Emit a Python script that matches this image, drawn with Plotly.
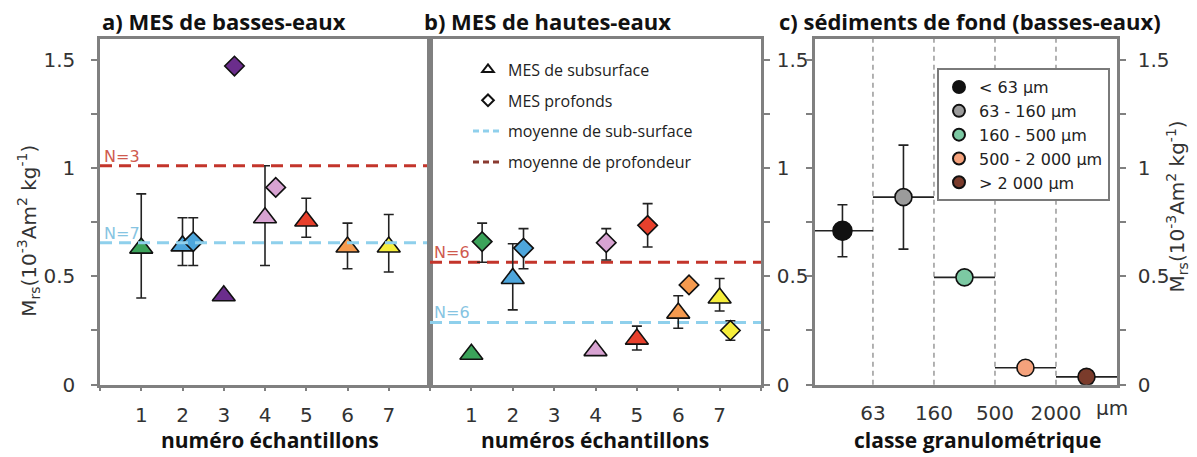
import plotly.graph_objects as go

W, H = 1197, 457

# ---- data -------------------------------------------------------------
samples = [1, 2, 3, 4, 5, 6, 7]
sample_colors = ["#3ba35a", "#4da6dc", "#6b2d8c", "#d8a3d2", "#e8402c", "#f59a4e", "#f6ee3c"]

# a) low-water suspended matter
a_sub_x = [1, 2, 3, 4, 5, 6, 7]
a_sub_y = [0.63, 0.64, 0.41, 0.77, 0.755, 0.635, 0.635]
a_sub_up = [0.25, 0.13, 0.0, 0.24, 0.105, 0.11, 0.15]
a_sub_dn = [0.23, 0.09, 0.0, 0.22, 0.075, 0.10, 0.115]
a_deep_x = [2, 3, 4]
a_deep_y = [0.66, 1.47, 0.91]
a_deep_up = [0.11, 0.0, 0.0]
a_deep_dn = [0.11, 0.0, 0.0]
a_mean_sub, a_n_sub = 0.655, 7
a_mean_deep, a_n_deep = 1.01, 3

# b) high-water suspended matter
b_sub_x = [1, 2, 4, 5, 6, 7]
b_sub_y = [0.14, 0.49, 0.157, 0.21, 0.33, 0.40]
b_sub_up = [0.0, 0.16, 0.0, 0.06, 0.08, 0.09]
b_sub_dn = [0.0, 0.145, 0.0, 0.05, 0.07, 0.06]
b_deep_x = [1, 2, 4, 5, 6, 7]
b_deep_y = [0.66, 0.63, 0.655, 0.735, 0.46, 0.25]
b_deep_up = [0.085, 0.09, 0.065, 0.10, 0.0, 0.045]
b_deep_dn = [0.095, 0.095, 0.08, 0.10, 0.0, 0.045]
b_mean_sub, b_n_sub = 0.287, 6
b_mean_deep, b_n_deep = 0.565, 6

# c) bed sediments by grain-size class
classes = ["< 63 µm", "63 - 160 µm", "160 - 500 µm", "500 - 2 000 µm", "> 2 000 µm"]
class_bounds = ["63", "160", "500", "2000"]
class_colors = ["#111111", "#9b9b9b", "#7cc9a3", "#f5a27c", "#7a3b2b"]
c_y = [0.71, 0.865, 0.495, 0.078, 0.036]
c_err = [0.12, 0.24, 0.0, 0.0, 0.0]

y_labels = [0, 0.5, 1.0, 1.5]
y_minor = [0.25, 0.75, 1.25]

DEEP_OFFSET = 0.26
X_RANGE = [0, 8]
Y_RANGE = [0, 1.595]

# ---- style ------------------------------------------------------------
AX = "#808080"
TICK_FONT = dict(family="DejaVu Sans", size=20, color="#333333")
BOLD = "Open Sans"
RED_LINE = "#c3352b"
BLUE_LINE = "#8fd0ec"
RED_TXT = "#cf5a4e"
BLUE_TXT = "#86c4e2"
DASH = "12px,7px"

def px_x(p):
    return p / W

def px_y(p):
    return 1 - p / H

fig = go.Figure()

def err(up, dn):
    return dict(type="data", symmetric=False, array=up, arrayminus=dn,
                color="#222222", thickness=1.6, width=5)

def colors_for(xs):
    return [sample_colors[samples.index(s)] for s in xs]

MLINE = dict(color="#111111", width=1.6)

# panel a
fig.add_trace(go.Scatter(x=a_sub_x, y=a_sub_y, mode="markers", xaxis="x", yaxis="y",
                         marker=dict(symbol="triangle-up", size=20, color=colors_for(a_sub_x), line=MLINE),
                         error_y=err(a_sub_up, a_sub_dn), showlegend=False))
fig.add_trace(go.Scatter(x=[s + DEEP_OFFSET for s in a_deep_x], y=a_deep_y, mode="markers", xaxis="x", yaxis="y",
                         marker=dict(symbol="diamond", size=15, color=colors_for(a_deep_x), line=MLINE),
                         error_y=err(a_deep_up, a_deep_dn), showlegend=False))
fig.add_trace(go.Scatter(x=X_RANGE, y=[a_mean_deep] * 2, mode="lines", xaxis="x", yaxis="y",
                         line=dict(color=RED_LINE, width=3, dash=DASH), showlegend=False))
fig.add_trace(go.Scatter(x=X_RANGE, y=[a_mean_sub] * 2, mode="lines", xaxis="x", yaxis="y",
                         line=dict(color=BLUE_LINE, width=3, dash=DASH), showlegend=False))

# panel b
fig.add_trace(go.Scatter(x=X_RANGE, y=[b_mean_deep] * 2, mode="lines", xaxis="x2", yaxis="y2",
                         line=dict(color=RED_LINE, width=3, dash=DASH), showlegend=False))
fig.add_trace(go.Scatter(x=X_RANGE, y=[b_mean_sub] * 2, mode="lines", xaxis="x2", yaxis="y2",
                         line=dict(color=BLUE_LINE, width=3, dash=DASH), showlegend=False))
fig.add_trace(go.Scatter(x=b_sub_x, y=b_sub_y, mode="markers", xaxis="x2", yaxis="y2",
                         marker=dict(symbol="triangle-up", size=20, color=colors_for(b_sub_x), line=MLINE),
                         error_y=err(b_sub_up, b_sub_dn), showlegend=False))
fig.add_trace(go.Scatter(x=[s + DEEP_OFFSET for s in b_deep_x], y=b_deep_y, mode="markers", xaxis="x2", yaxis="y2",
                         marker=dict(symbol="diamond", size=15, color=colors_for(b_deep_x), line=MLINE),
                         error_y=err(b_deep_up, b_deep_dn), showlegend=False))

# legend entries for panels a/b
fig.add_trace(go.Scatter(x=[None], y=[None], mode="markers", xaxis="x2", yaxis="y2", name="MES de subsurface",
                         marker=dict(symbol="triangle-up-open", size=10, color="#111111", line=dict(width=2)),
                         legend="legend", legendgroup="g1"))
fig.add_trace(go.Scatter(x=[None], y=[None], mode="markers", xaxis="x2", yaxis="y2", name="MES profonds",
                         marker=dict(symbol="diamond-open", size=9, color="#111111", line=dict(width=2)),
                         legend="legend", legendgroup="g2"))
fig.add_trace(go.Scatter(x=[None], y=[None], mode="lines", xaxis="x2", yaxis="y2", name="moyenne de sub-surface",
                         line=dict(color=BLUE_LINE, width=3, dash="6px,4px"), legend="legend", legendgroup="g3"))
fig.add_trace(go.Scatter(x=[None], y=[None], mode="lines", xaxis="x2", yaxis="y2", name="moyenne de profondeur",
                         line=dict(color="#8a3a30", width=3, dash="6px,4px"), legend="legend", legendgroup="g4"))

# panel c
for i, (name, col) in enumerate(zip(classes, class_colors)):
    fig.add_trace(go.Scatter(
        x=[i + 0.5], y=[c_y[i]], mode="markers", xaxis="x3", yaxis="y3", name=name,
        marker=dict(symbol="circle", size=19 if i == 0 else 17, color=col, line=dict(color="#111111", width=1.6)),
        error_x=dict(type="constant", value=0.5, color="#222222", thickness=1.6, width=0),
        error_y=dict(type="data", array=[c_err[i]], color="#222222", thickness=1.6, width=5,
                     visible=c_err[i] > 0),
        legend="legend2", legendgroup=f"c{i}"))

# class boundaries in panel c
for k in range(1, len(classes)):
    fig.add_shape(type="line", xref="x3", yref="y3 domain", x0=k, x1=k, y0=0, y1=1,
                  line=dict(color="#8a8a8a", width=1.3, dash="5px,4px"), layer="below")

ydom = [px_y(395), px_y(40)]
common_x = dict(showline=True, linecolor=AX, linewidth=2.5, showgrid=False, zeroline=False,
                ticks="outside", tickcolor=AX, ticklen=4, tickwidth=1.5, tickfont=TICK_FONT)
common_y = dict(showline=True, linecolor=AX, linewidth=2.5, showgrid=False, zeroline=False,
                range=Y_RANGE, domain=ydom, tickvals=y_labels, ticktext=[f"{v:g}" for v in y_labels],
                ticks="outside", tickcolor=AX, ticklen=6, tickwidth=1.5, tickfont=TICK_FONT,
                minor=dict(tickvals=y_minor, ticks="outside", ticklen=6, tickcolor=AX, tickwidth=1.5))

x_minor = dict(tickvals=[X_RANGE[0], X_RANGE[1]], ticks="outside", ticklen=4, tickcolor=AX, tickwidth=1.5)

fig.update_layout(
    width=W, height=H, margin=dict(l=0, r=0, t=0, b=0),
    paper_bgcolor="white", plot_bgcolor="white",
    xaxis=dict(common_x, domain=[px_x(100), px_x(430)], range=X_RANGE, anchor="y",
               tickvals=samples, minor=x_minor, mirror=True, ticklabelstandoff=7),
    yaxis=dict(common_y, anchor="x", mirror=True, ticklabelstandoff=12),
    xaxis2=dict(common_x, domain=[px_x(430), px_x(761)], range=X_RANGE, anchor="y2",
                tickvals=samples, minor=x_minor, mirror=True, ticklabelstandoff=7),
    yaxis2=dict(common_y, anchor="x2", side="right", mirror=True, ticklabelstandoff=3),
    xaxis3=dict(common_x, domain=[px_x(815), px_x(1117)], range=[0.05, 5.0], anchor="y3",
                tickvals=list(range(1, len(classes))), ticktext=class_bounds, ticks="",
                mirror=True, ticklabelstandoff=9),
    yaxis3=dict(common_y, anchor="x3", side="right", mirror="ticks", ticklabelstandoff=8),
    legend=dict(x=px_x(468), y=px_y(54), xanchor="left", yanchor="top",
                bgcolor="rgba(255,255,255,0)", borderwidth=0, tracegroupgap=7,
                font=dict(family="Open Sans", size=16, color="#222222"), itemsizing="trace"),
    legend2=dict(x=px_x(937), y=px_y(70), xanchor="left", yanchor="top",
                 bgcolor="white", bordercolor="#7a7a7a", borderwidth=2, tracegroupgap=0,
                 font=dict(family="DejaVu Sans", size=16, color="#222222"), itemsizing="constant"),
)

ann = []
# panel titles
for txt, x0 in [("a) MES de basses-eaux", 100), ("b) MES de hautes-eaux", 422),
                ("c) sédiments de fond (basses-eaux)", 777)]:
    ann.append(dict(text=txt, xref="paper", yref="paper", x=px_x(x0), y=px_y(22),
                    xanchor="left", yanchor="middle", showarrow=False,
                    font=dict(family=BOLD, size=22, color="#111111", weight="bold")))
# axis titles
for txt, xc in [("numéro échantillons", 270), ("numéros échantillons", 595),
                ("classe granulométrique", 977)]:
    ann.append(dict(text=txt, xref="paper", yref="paper", x=px_x(xc), y=px_y(452),
                    xanchor="center", yanchor="middle", showarrow=False,
                    font=dict(family=BOLD, size=21, color="#111111", weight="bold")))
ytitle = "M<sub>rs</sub>(10<sup>-3</sup>Am<sup>2</sup> kg<sup>-1</sup>)"
ann.append(dict(text=ytitle, xref="paper", yref="paper", x=px_x(29), y=px_y(237), textangle=-90,
                xanchor="center", yanchor="middle", showarrow=False, font=TICK_FONT))
ann.append(dict(text=ytitle, xref="paper", yref="paper", x=px_x(1177), y=px_y(212), textangle=-90,
                xanchor="center", yanchor="middle", showarrow=False, font=TICK_FONT))
ann.append(dict(text="µm", xref="x3", yref="paper", x=len(class_bounds), y=px_y(419), xshift=38,
                xanchor="left", yanchor="middle", showarrow=False, font=TICK_FONT))
# sample counts above the mean lines
for xr, yr, m, n, col in [("x", "y", a_mean_deep, a_n_deep, RED_TXT), ("x", "y", a_mean_sub, a_n_sub, BLUE_TXT),
                          ("x2", "y2", b_mean_deep, b_n_deep, RED_TXT), ("x2", "y2", b_mean_sub, b_n_sub, BLUE_TXT)]:
    ann.append(dict(text=f"N={n}", xref=xr, yref=yr, x=0.05, y=m, xanchor="left", yanchor="bottom",
                    yshift=-2, showarrow=False, font=dict(family="DejaVu Sans", size=16, color=col)))
fig.update_layout(annotations=ann)

fig.write_html("out.html")
